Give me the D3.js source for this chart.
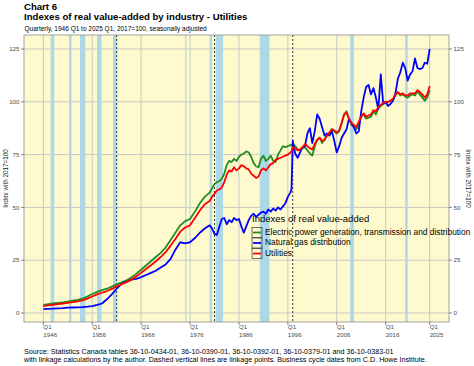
<!DOCTYPE html>
<html>
<head>
<meta charset="utf-8">
<script src="https://cdn.jsdelivr.net/npm/d3@7"></script>
<style>
    body { margin: 0; background: #fff; }
    svg text { font-family: "Liberation Sans", Arial, sans-serif; }
</style>
</head>
<body>
<div id="chart"></div>
<script>
//== DATA ================================================//
// Quarter positions as decimal years (annual to 1979, then half-yearly).
var dates = [
    1946, 1947, 1948, 1949, 1950, 1951, 1952, 1953, 1954, 1955, 1956, 1957,
    1958, 1959, 1960, 1961, 1962, 1963, 1964, 1965, 1966, 1967, 1968, 1969,
    1970, 1971, 1972, 1973, 1974, 1975, 1976, 1977, 1978, 1979,
    1980, 1980.5, 1981, 1981.5, 1982, 1982.5, 1983, 1983.5, 1984, 1984.5,
    1985, 1985.5, 1986, 1986.5, 1987, 1987.5, 1988, 1988.5, 1989, 1989.5,
    1990, 1990.5, 1991, 1991.5, 1992, 1992.5, 1993, 1993.5, 1994, 1994.5,
    1995, 1995.5, 1996, 1996.5, 1996.75,
    1997, 1997.5, 1998, 1998.5, 1999, 1999.5,
    2000, 2000.5, 2001, 2001.5, 2002, 2002.5, 2003, 2003.5, 2004, 2004.5,
    2005, 2005.5, 2006, 2006.5, 2007, 2007.5, 2008, 2008.5, 2009, 2009.5,
    2010, 2010.5, 2011, 2011.5, 2012, 2012.5, 2013, 2013.5, 2014, 2014.5,
    2015, 2015.5, 2016, 2016.5, 2017, 2017.5, 2018, 2018.5, 2019, 2019.5,
    2020, 2020.5, 2021, 2021.5, 2022, 2022.5, 2023, 2023.5, 2024, 2024.5,
    2025
];

var electric = [
    3.8, 4.2, 4.5, 4.8, 5.0, 5.4, 5.8, 6.2, 6.8, 7.8, 9.0, 10.0,
    10.8, 11.5, 12.5, 13.6, 14.5, 15.5, 16.8, 18.5, 20.5, 22.5, 24.5, 26.5,
    28.5, 31.0, 34.5, 38.0, 41.5, 43.5, 44.5, 48.0, 52.0, 55.0,
    57, 59, 61, 62, 62.5, 63.5, 66, 70, 72, 71.5,
    73, 72, 74, 75, 75.5, 76.5, 76, 74, 71, 69.5,
    69, 73, 74.5, 72, 73, 74.5, 72, 71.5, 75, 77,
    79, 78.5, 79, 79.5, 79.5,
    80, 79, 77.5, 77, 78, 78.5,
    77, 75.5, 74.5, 79, 82, 83, 80.5, 82, 84, 85,
    87, 86, 85, 86, 90, 94, 95.5, 92, 89, 88,
    87, 89, 93, 94, 92, 92.5, 93, 95.5, 94, 97,
    98, 99, 99.5, 100, 100.5, 101, 103, 104.5, 103, 103.5,
    102.5, 102, 103, 103.5, 103, 105, 103.5, 102, 100.5, 102,
    105.5
];

var naturalGas = [
    1.8, 2.0, 2.1, 2.2, 2.3, 2.5, 2.6, 2.7, 2.8, 3.0, 3.3, 3.8,
    4.5, 6.5, 8.8, 11.5, 13.8, 14.8, 15.8, 16.2, 17.0, 18.0, 19.0, 20.0,
    21.5, 23.0, 25.5, 30.0, 33.5, 33.0, 33.5, 35.5, 38.0, 40.0,
    41.5, 40, 37.5, 37, 41, 44.5, 45, 42, 44, 43,
    45, 44, 44.5, 41, 38, 41, 44, 46, 47, 45.5,
    46.5, 47.5, 48, 47, 49, 48, 49.5, 48.5, 50, 49,
    50.5, 52, 55, 57, 58.5,
    81.5, 75.5, 73.5, 76, 78.5, 79,
    85, 87.5, 80.5, 86, 94, 92, 88, 84, 85, 84,
    86, 81.5, 76, 79, 83, 85, 87, 92, 90, 88,
    85, 86, 95.5, 102, 107, 108, 103.5, 106.5, 102, 96.5,
    113, 99, 100, 98, 99, 100.5, 104, 111, 114, 118.5,
    116, 110, 113, 114.5, 120.5, 116, 115.5, 116, 118.5, 118,
    125
];

var utilities = [
    3.3, 3.6, 3.9, 4.2, 4.5, 4.8, 5.1, 5.5, 6.0, 6.8, 7.8, 8.8,
    9.6, 10.4, 11.4, 12.6, 13.6, 14.6, 15.8, 17.3, 19.0, 20.8, 22.6, 24.5,
    26.5, 28.8, 31.8, 35.0, 38.5, 40.5, 41.5, 45.0, 48.5, 51.5,
    53, 55, 56.5, 58, 58.5, 59.5, 62, 65.5, 67.5, 67,
    69, 67.5, 68.5, 70, 69.5, 68.5, 68, 66, 65, 64,
    64.5, 67.5, 68.5, 67.5, 69, 70.5, 71, 72.5, 73, 73.5,
    74, 74.5, 75, 76, 76.5,
    78.5, 78, 77, 77.5, 78.5, 80,
    79, 78, 77.5, 80, 82, 83, 81.5, 82, 84, 85.5,
    87, 86.5, 85.5, 86.5, 90, 94, 95, 92, 90, 89,
    88, 90.5, 93, 94.5, 93, 93.5, 94, 96, 95.5, 97.5,
    98.5, 99.5, 100, 100, 100.5, 101.5, 103.5, 104.5, 103.5, 104,
    103, 103, 104, 104, 104, 105.5, 104.5, 103.5, 102, 103.5,
    107.5
];

var seriesNames = ["Electric power generation, transmission and distribution",
    "Natural gas distribution", "Utilities"];

// Business cycle (recession) periods, decimal years.
var recStart = [1947.5, 1951.25, 1953.5, 1957.0, 1960.25, 1975.0, 1980.0, 1981.25, 1990.25, 2008.75, 2020.0];
var recEnd = [1948.25, 1951.75, 1954.6, 1957.9, 1961.0, 1975.25, 1980.5, 1982.75, 1992.25, 2009.5, 2020.5];

// Linkage points (dashed lines).
var linkDates = [1961.0, 1981.0, 1997.0];

var xTickYears = [1946, 1956, 1966, 1976, 1986, 1996, 2006, 2016, 2025];
var yTicks = [0, 25, 50, 75, 100, 125];

//== PLOT ================================================//
var colors = ["#228B22", "#0000FF", "#FF0000"];
var W = 474, H = 366;

var panel = { left: 24, right: 449, top: 35, bottom: 322 };

var svg = d3.select("#chart")
    .append("svg")
    .attr("width", W)
    .attr("height", H);

var x = d3.scaleLinear()
    .domain([1942.05, 2028.95])
    .range([panel.left, panel.right]);

var y = d3.scaleLinear()
    .domain([-4.26, 131.63])
    .range([panel.bottom, panel.top]);

// Titles
svg.append("text").attr("x", 24).attr("y", 9.5)
    .attr("font-size", 9.6).attr("font-weight", "bold").text("Chart 6");
svg.append("text").attr("x", 24).attr("y", 19.5)
    .attr("font-size", 9.6).attr("font-weight", "bold")
    .text("Indexes of real value-added by industry - Utilities");
svg.append("text").attr("x", 24.5).attr("y", 30.5)
    .attr("font-size", 6.5)
    .text("Quarterly, 1946 Q1 to 2025 Q1, 2017=100, seasonally adjusted");

// Panel background
svg.append("rect")
    .attr("x", panel.left).attr("y", panel.top)
    .attr("width", panel.right - panel.left)
    .attr("height", panel.bottom - panel.top)
    .attr("fill", "#FFFACD");

// Grid lines
svg.selectAll(".vgrid")
    .data(xTickYears).enter()
    .append("line")
    .attr("x1", d => x(d)).attr("x2", d => x(d))
    .attr("y1", panel.top).attr("y2", panel.bottom)
    .attr("stroke", "#c8c8c8").attr("stroke-width", 1);
svg.selectAll(".hgrid")
    .data(yTicks).enter()
    .append("line")
    .attr("x1", panel.left).attr("x2", panel.right)
    .attr("y1", d => y(d)).attr("y2", d => y(d))
    .attr("stroke", "#c8c8c8").attr("stroke-width", 1);

// Recession bands
svg.selectAll(".rec")
    .data(recStart).enter()
    .append("rect")
    .attr("x", d => x(d))
    .attr("width", (d, i) => x(recEnd[i]) - x(d))
    .attr("y", panel.top)
    .attr("height", panel.bottom - panel.top)
    .attr("fill", "#ADD8E6");

// Linkage lines
svg.selectAll(".link")
    .data(linkDates).enter()
    .append("line")
    .attr("x1", d => x(d)).attr("x2", d => x(d))
    .attr("y1", panel.top).attr("y2", panel.bottom)
    .attr("stroke", "#000").attr("stroke-width", 0.8)
    .attr("stroke-dasharray", "2,2");

// Series lines
var allSeries = [electric, naturalGas, utilities];
var line = d3.line()
    .x((d, i) => x(dates[i]))
    .y(d => y(d));

allSeries.forEach(function (s, k) {
    svg.append("path")
        .datum(s)
        .attr("d", line)
        .attr("fill", "none")
        .attr("stroke", colors[k])
        .attr("stroke-width", 1.8)
        .attr("stroke-linejoin", "round");
});

// Panel border
svg.append("rect")
    .attr("x", panel.left).attr("y", panel.top)
    .attr("width", panel.right - panel.left)
    .attr("height", panel.bottom - panel.top)
    .attr("fill", "none").attr("stroke", "#8c8c8c").attr("stroke-width", 0.8);

// Axes
var tickCol = "#4d4d4d";
var xAxis = svg.append("g");
xAxis.selectAll("line")
    .data(xTickYears).enter()
    .append("line")
    .attr("x1", d => x(d)).attr("x2", d => x(d))
    .attr("y1", panel.bottom).attr("y2", panel.bottom + 3)
    .attr("stroke", "#333").attr("stroke-width", 0.6);
var xl = xAxis.selectAll("text")
    .data(xTickYears).enter()
    .append("text")
    .attr("font-size", 6.2).attr("fill", tickCol);
xl.append("tspan").attr("x", d => x(d)).attr("y", 328.5).text("Q1");
xl.append("tspan").attr("x", d => x(d)).attr("y", 336.5).text(d => d);

[["left", panel.left, -3, "end", -4.5], ["right", panel.right, 3, "start", 4.5]].forEach(function (a) {
    var g = svg.append("g");
    g.selectAll("line")
        .data(yTicks).enter()
        .append("line")
        .attr("x1", a[1]).attr("x2", a[1] + a[2])
        .attr("y1", d => y(d)).attr("y2", d => y(d))
        .attr("stroke", "#333").attr("stroke-width", 0.6);
    g.selectAll("text")
        .data(yTicks).enter()
        .append("text")
        .attr("x", a[1] + a[4]).attr("y", d => y(d) + 2.2)
        .attr("text-anchor", a[3])
        .attr("font-size", 6.2).attr("fill", tickCol)
        .text(d => d);
});

// Axis titles
var midY = (panel.top + panel.bottom) / 2;
svg.append("text")
    .attr("text-anchor", "middle")
    .attr("transform", "translate(8.3," + midY + ")rotate(-90)")
    .attr("font-size", 6.3).attr("fill", "#222")
    .text("Index with 2017=100");
svg.append("text")
    .attr("text-anchor", "middle")
    .attr("transform", "translate(465.5," + midY + ")rotate(90)")
    .attr("font-size", 6.3).attr("fill", "#222")
    .text("Index with 2017=100");

// Legend
var lg = svg.append("g");
lg.append("text").attr("x", 252).attr("y", 222)
    .attr("font-size", 9.5).text("Indexes of real value-added");
seriesNames.forEach(function (name, k) {
    var ky = 227.5 + k * 10.5;
    lg.append("rect")
        .attr("x", 252).attr("y", ky).attr("width", 10).attr("height", 10)
        .attr("fill", "none").attr("stroke", "#333").attr("stroke-width", 0.7);
    lg.append("line")
        .attr("x1", 253).attr("x2", 261)
        .attr("y1", ky + 5).attr("y2", ky + 5)
        .attr("stroke", colors[k]).attr("stroke-width", 1.8);
    lg.append("text").attr("x", 265).attr("y", ky + 7.3)
        .attr("font-size", 8.4).text(name);
});

// Caption
svg.append("text").attr("x", 24).attr("y", 354)
    .attr("font-size", 7.2)
    .text("Source: Statistics Canada tables 36-10-0434-01, 36-10-0390-01, 36-10-0392-01, 36-10-0379-01 and 36-10-0383-01");
svg.append("text").attr("x", 24).attr("y", 362)
    .attr("font-size", 7.2)
    .text("with linkage calculations by the author. Dashed vertical lines are linkage points. Business cycle dates from C.D. Howe Institute.");
</script>
</body>
</html>
